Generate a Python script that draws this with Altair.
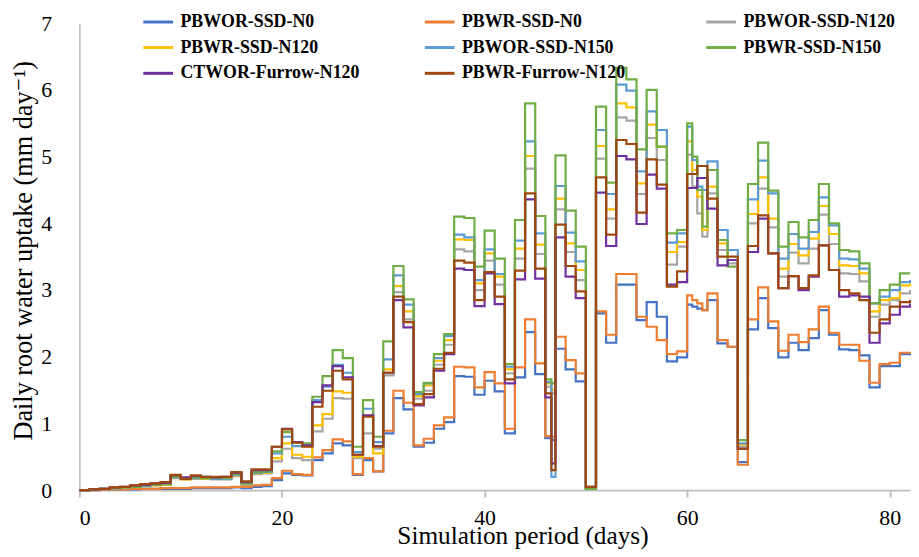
import altair as alt
import pandas as pd

days = list(range(0, 47)) + [46.6] + list(range(47, 61)) + [60.5, 61, 61.5] + list(range(62, 83))
days = sorted(days)

series_names = ["PBWOR-SSD-N0", "PBWR-SSD-N0", "PBWOR-SSD-N120", "PBWR-SSD-N120",
                "PBWOR-SSD-N150", "PBWR-SSD-N150", "CTWOR-Furrow-N120", "PBWR-Furrow-N120"]
colors = ["#4472C4", "#ED7D31", "#A5A5A5", "#FFC000", "#5B9BD5", "#70AD47", "#7030A0", "#9E480E"]

pbwor_ssd_n0 = [0.00, 0.00, 0.01, 0.01, 0.01, 0.01, 0.02, 0.02, 0.02,
                0.02, 0.02, 0.03, 0.03, 0.03, 0.03, 0.04, 0.03, 0.05, 0.06, 0.15,
                0.25, 0.23, 0.22, 0.45, 0.55, 0.70, 0.67, 0.23, 0.45, 0.28, 0.85, 1.38, 1.21, 0.65, 0.71,
                0.92, 1.02, 1.71, 1.70, 1.43, 1.64, 1.48, 0.85, 1.69, 2.37, 1.74, 0.78,
                0.75,
                2.12, 1.81, 1.63,
                0.03, 2.65, 2.21, 3.08, 3.08, 2.55, 2.82, 2.60, 1.93, 1.99, 2.78,
                2.75, 2.72, 2.70,
                2.85, 2.20, 2.15, 0.42, 2.41, 2.88, 2.43, 1.99, 2.21, 2.10, 2.28, 2.70, 2.33, 2.11, 2.10, 2.02, 1.54, 1.86, 1.86, 2.04, 2.05]
pbwr_ssd_n0 = [0.00, 0.00, 0.01, 0.01, 0.01, 0.02, 0.02, 0.02, 0.03,
               0.03, 0.03, 0.04, 0.04, 0.04, 0.04, 0.05, 0.05, 0.07, 0.08, 0.18,
               0.29, 0.24, 0.23, 0.49, 0.60, 0.76, 0.73, 0.24, 0.48, 0.28, 0.89, 1.49, 1.31, 0.67, 0.77,
               0.97, 1.09, 1.85, 1.84, 1.54, 1.77, 1.60, 0.92, 1.84, 2.56, 1.90, 0.81,
               0.80,
               2.30, 1.95, 1.75,
               0.04, 2.68, 2.33, 3.24, 3.24, 2.60, 2.45, 2.25, 2.04, 2.08, 2.92,
               2.85, 2.80, 2.70,
               2.95, 2.25, 2.15, 0.38, 2.56, 3.04, 2.53, 2.09, 2.33, 2.22, 2.41, 2.75, 2.36, 2.18, 2.18, 1.94, 1.61, 1.89, 1.91, 2.06, 2.07]
pbwor_ssd_n120 = [0.00, 0.01, 0.02, 0.03, 0.04, 0.05, 0.06, 0.07, 0.08,
                  0.18, 0.16, 0.17, 0.17, 0.16, 0.16, 0.21, 0.08, 0.24, 0.25, 0.43,
                  0.62, 0.48, 0.45, 0.88, 1.07, 1.38, 1.37, 0.48, 0.85, 0.62, 1.72, 2.97, 2.56, 1.37, 1.49,
                  1.88, 2.18, 3.61, 3.58, 3.00, 3.44, 3.08, 1.75, 3.47, 4.82, 3.54, 1.55,
                  1.45,
                  4.21, 3.57, 3.15,
                  0.04, 4.97, 4.07, 5.59, 5.54, 4.44, 5.28, 4.95, 3.38, 3.65, 5.03,
                  4.55, 4.15, 3.80,
                  4.45, 3.60, 3.40, 0.65, 4.00, 4.52, 3.94, 3.20, 3.56, 3.40, 3.62, 4.13, 3.69, 3.25, 3.24, 3.13, 2.60, 2.78, 2.85, 2.95, 3.00]
pbwr_ssd_n120 = [0.00, 0.01, 0.02, 0.03, 0.04, 0.05, 0.06, 0.07, 0.08,
                 0.19, 0.16, 0.18, 0.17, 0.17, 0.17, 0.22, 0.09, 0.25, 0.26, 0.48,
                 0.70, 0.53, 0.50, 0.97, 1.14, 1.48, 1.46, 0.50, 1.12, 0.55, 1.81, 3.06, 2.68, 1.41, 1.57,
                 1.94, 2.25, 3.76, 3.75, 3.10, 3.55, 3.20, 1.81, 3.62, 5.01, 3.68, 1.60,
                 1.50,
                 4.37, 3.70, 3.30,
                 0.03, 5.16, 4.21, 5.80, 5.74, 4.60, 5.48, 5.15, 3.57, 3.72, 5.23,
                 4.80, 4.40, 3.90,
                 4.55, 3.70, 3.45, 0.68, 4.14, 4.69, 4.07, 3.32, 3.69, 3.52, 3.77, 4.26, 3.84, 3.37, 3.36, 3.25, 2.68, 2.85, 2.88, 3.07, 3.10]
pbwor_ssd_n150 = [0.00, 0.01, 0.02, 0.03, 0.04, 0.05, 0.06, 0.08, 0.09,
                  0.19, 0.17, 0.18, 0.18, 0.17, 0.17, 0.23, 0.10, 0.26, 0.27, 0.55,
                  0.80, 0.66, 0.67, 1.35, 1.55, 1.88, 1.76, 0.57, 1.22, 0.72, 1.96, 3.22, 2.78, 1.44, 1.60,
                  1.98, 2.31, 3.83, 3.79, 3.15, 3.61, 3.24, 1.85, 3.74, 5.23, 3.85, 1.62,
                  0.20,
                  4.56, 3.86, 3.43,
                  0.03, 5.40, 4.44, 6.08, 5.99, 4.78, 5.68, 5.40, 3.71, 3.85, 5.45,
                  4.95, 4.55, 4.50,
                  4.93, 3.90, 3.60, 0.70, 4.36, 4.94, 4.45, 3.47, 3.84, 3.62, 3.87, 4.39, 3.97, 3.47, 3.46, 3.32, 2.80, 2.90, 3.00, 3.12, 3.15]
pbwr_ssd_n150 = [0.00, 0.01, 0.02, 0.03, 0.04, 0.05, 0.07, 0.08, 0.09,
                 0.20, 0.17, 0.19, 0.18, 0.18, 0.18, 0.24, 0.10, 0.27, 0.28, 0.58,
                 0.87, 0.72, 0.70, 1.40, 1.71, 2.10, 1.98, 0.65, 1.35, 0.80, 2.23, 3.36, 2.86, 1.47, 1.61,
                 2.04, 2.34, 4.10, 4.08, 3.35, 3.89, 3.47, 1.89, 4.05, 5.80, 4.11, 1.66,
                 1.60,
                 5.02, 4.19, 3.65,
                 0.02, 5.75, 4.61, 6.33, 6.16, 5.11, 6.00, 5.15, 3.85, 3.90, 5.50,
                 5.00, 4.50, 3.95,
                 4.80, 3.75, 3.35, 0.75, 4.59, 5.21, 4.49, 3.65, 4.02, 3.79, 4.05, 4.59, 4.00, 3.60, 3.58, 3.40, 2.80, 3.00, 3.08, 3.25, 3.25]
ctwor_furrow_n120 = [0.00, 0.01, 0.02, 0.04, 0.05, 0.07, 0.08, 0.10, 0.11,
                     0.22, 0.19, 0.21, 0.20, 0.19, 0.20, 0.26, 0.12, 0.30, 0.30, 0.65,
                     0.92, 0.72, 0.67, 1.32, 1.57, 1.86, 1.69, 0.53, 1.12, 0.66, 1.76, 2.85, 2.44, 1.27, 1.39,
                     1.79, 2.04, 3.32, 3.30, 2.76, 3.25, 2.79, 1.60, 3.16, 4.36, 3.17, 1.39,
                     0.40,
                     3.79, 3.20, 2.88,
                     0.05, 4.46, 3.66, 5.01, 4.96, 3.99, 4.73, 4.52, 3.08, 3.12, 4.53,
                     4.53, 4.68, 4.68,
                     4.22, 3.37, 3.45, 0.62, 3.57, 4.07, 3.55, 3.03, 3.21, 3.00, 3.20, 3.67, 3.30, 2.90, 2.92, 2.90, 2.21, 2.50, 2.63, 2.75, 2.80]
pbwr_furrow_n120 = [0.00, 0.01, 0.02, 0.04, 0.05, 0.07, 0.09, 0.10, 0.12,
                    0.23, 0.17, 0.22, 0.20, 0.20, 0.20, 0.27, 0.13, 0.31, 0.31, 0.65,
                    0.91, 0.71, 0.65, 1.25, 1.49, 1.79, 1.66, 0.53, 1.10, 0.65, 1.76, 2.90, 2.52, 1.29, 1.44,
                    1.82, 2.06, 3.44, 3.41, 2.85, 3.27, 2.90, 1.66, 3.29, 4.45, 3.32, 1.45,
                    0.30,
                    3.98, 3.36, 2.98,
                    0.05, 4.69, 3.83, 5.25, 5.19, 4.16, 4.96, 4.58, 3.05, 3.28, 4.74,
                    4.74, 4.86, 4.86,
                    4.37, 3.50, 3.50, 0.62, 3.66, 4.12, 3.55, 3.03, 3.21, 3.03, 3.22, 3.67, 3.30, 3.00, 2.95, 2.85, 2.36, 2.56, 2.75, 2.82, 2.85]

all_values = [pbwor_ssd_n0, pbwr_ssd_n0, pbwor_ssd_n120, pbwr_ssd_n120,
              pbwor_ssd_n150, pbwr_ssd_n150, ctwor_furrow_n120, pbwr_furrow_n120]

rows = []
for name, vals in zip(series_names, all_values):
    assert len(vals) == len(days), (name, len(vals), len(days))
    for d, v in zip(days, vals):
        rows.append({"day": d, "value": v, "series": name})
df = pd.DataFrame(rows)

# legend fills columns top-to-bottom; reorder so it reads row by row
legend_order = [series_names[i] for i in (0, 3, 6, 1, 4, 7, 2, 5)]
color_of = dict(zip(series_names, colors))
legend_colors = [color_of[n] for n in legend_order]

FONT = "Liberation Serif, Times New Roman, DejaVu Serif, serif"

chart = alt.Chart(df).mark_line(interpolate="step-after", strokeWidth=2.2).encode(
    x=alt.X("day:Q",
            scale=alt.Scale(domain=[0, 82], nice=False, zero=False),
            axis=alt.Axis(values=[0, 20, 40, 60, 80], title="Simulation period (days)", grid=False,
                          domainColor="#BFBFBF", domainWidth=2, tickColor="#BFBFBF", tickWidth=2, tickSize=7,
                          labelFont=FONT, labelFontSize=22, labelColor="black", labelPadding=11,
                          titleFont=FONT, titleFontSize=25.5, titleFontWeight="normal", titleColor="black",
                          titlePadding=-5, titleX=447, titleAlign="center")),
    y=alt.Y("value:Q",
            scale=alt.Scale(domain=[0, 7], nice=False),
            axis=alt.Axis(values=[0, 1, 2, 3, 4, 5, 6, 7], title="Daily root water uptake (mm day⁻¹)", grid=False,
                          ticks=False, domainColor="#BFBFBF", domainWidth=1.5,
                          labelFont=FONT, labelFontSize=22, labelColor="black", labelPadding=28,
                          titleFont=FONT, titleFontSize=26.5, titleFontWeight="normal", titleColor="black",
                          titlePadding=3, titleY=229)),
    color=alt.Color("series:N", sort=legend_order,
                    scale=alt.Scale(domain=legend_order, range=legend_colors),
                    legend=alt.Legend(title=None, orient="none", legendX=63, legendY=-18, columns=3,
                                      columnPadding=59, rowPadding=-19, gridAlign="all",
                                      symbolType="stroke", symbolSize=900, symbolStrokeWidth=3,
                                      labelFont=FONT, labelFontWeight="bold", labelFontSize=18,
                                      labelColor="black", labelOffset=6, labelLimit=300, padding=0)),
).properties(
    width=838, height=471,
    autosize=alt.AutoSizeParams(type="none"),
    padding={"left": 72, "top": 13, "right": 1, "bottom": 57},
).configure_view(stroke=None).configure_axis(
    labelFont=FONT, titleFont=FONT
).configure_legend(labelFont=FONT)

chart.save("out.html", embed_options={"renderer": "svg", "actions": False})
